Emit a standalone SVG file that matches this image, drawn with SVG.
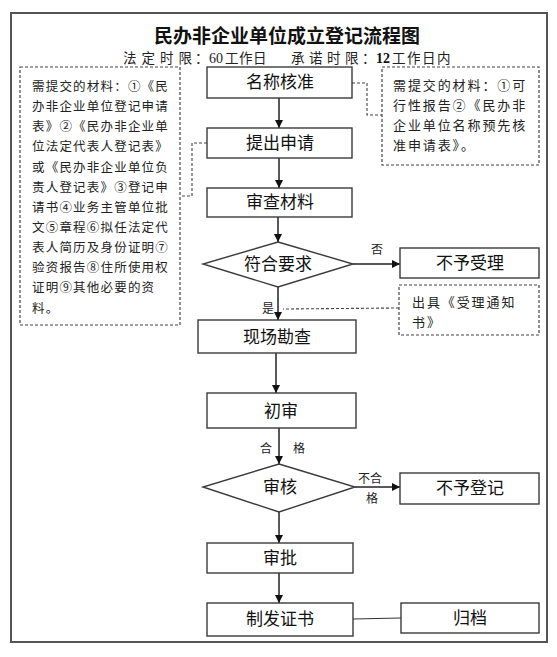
<svg xmlns="http://www.w3.org/2000/svg" width="557" height="657" viewBox="0 0 557 657">
<style>
.box{fill:#fff;stroke:#3a3a3a;stroke-width:1.4}
.dbox{fill:none;stroke:#444;stroke-width:1.2;stroke-dasharray:3 2}
.dl{fill:none;stroke:#444;stroke-width:1.1;stroke-dasharray:3 2}
.ln{fill:none;stroke:#222;stroke-width:1.5}
.nt{font-family:"Noto Sans CJK SC","Liberation Sans",sans-serif;font-size:17px;fill:#111;text-anchor:middle}
.note{font-family:"Noto Sans CJK SC",sans-serif;font-size:12.5px;fill:#222;letter-spacing:1.2px}
.note2{font-family:"Noto Sans CJK SC",sans-serif;font-size:13px;fill:#222;letter-spacing:1.9px}
.lab{font-family:"Noto Sans CJK SC",sans-serif;font-size:12px;fill:#222;text-anchor:middle}
.sub{font-family:"Noto Sans CJK SC",sans-serif;font-size:13.5px;fill:#222}
.num{font-family:"Liberation Serif",serif;font-size:14px}
</style>
<defs>
<marker id="ah" viewBox="0 0 10 10" refX="10" refY="5" markerWidth="8" markerHeight="8" markerUnits="userSpaceOnUse" orient="auto">
<path d="M0,0 L10,5 L0,10 z" fill="#111"/>
</marker>
</defs>
<rect x="0" y="0" width="557" height="657" fill="#fff"/>
<rect x="11" y="13" width="536" height="629" fill="none" stroke="#555" stroke-width="2"/>
<g id="title">
<text x="287" y="43" font-family="'Noto Sans CJK SC',sans-serif" font-size="19" font-weight="bold" fill="#111" text-anchor="middle">民办非企业单位成立登记流程图</text>
<text class="sub" y="63"><tspan x="123">法</tspan><tspan x="141.5">定</tspan><tspan x="160">时</tspan><tspan x="178.5">限</tspan><tspan x="195">：</tspan><tspan class="num" x="209">60</tspan><tspan x="225">工</tspan><tspan x="239">作</tspan><tspan x="253">日</tspan></text>
<text class="sub" y="63"><tspan x="291">承</tspan><tspan x="309">诺</tspan><tspan x="327">时</tspan><tspan x="345">限</tspan><tspan x="362">：</tspan><tspan class="num" x="376" font-weight="bold" fill="#111">12</tspan><tspan x="392">工</tspan><tspan x="407">作</tspan><tspan x="422">日</tspan><tspan x="437">内</tspan></text>
</g>
<g id="connectors">
<line class="ln" x1="279" y1="98" x2="279" y2="128" marker-end="url(#ah)"/>
<line class="ln" x1="279" y1="158" x2="279" y2="188" marker-end="url(#ah)"/>
<line class="ln" x1="278" y1="217" x2="278" y2="242" marker-end="url(#ah)"/>
<line class="ln" x1="353" y1="264" x2="400" y2="264" marker-end="url(#ah)"/>
<line class="ln" x1="278" y1="287" x2="278" y2="320" marker-end="url(#ah)"/>
<line class="ln" x1="276" y1="353" x2="276" y2="393" marker-end="url(#ah)"/>
<line class="ln" x1="279" y1="428" x2="279" y2="464" marker-end="url(#ah)"/>
<line class="ln" x1="355" y1="487" x2="400" y2="487" marker-end="url(#ah)"/>
<line class="ln" x1="279" y1="512" x2="279" y2="543" marker-end="url(#ah)"/>
<line class="ln" x1="279" y1="573" x2="279" y2="603" marker-end="url(#ah)"/>
<line x1="353" y1="619" x2="401" y2="618" stroke="#333" stroke-width="1.2"/>
<polyline class="dl" points="352,83 367,83 367,115 382,115"/>
<polyline class="dl" points="207,143 192,143 192,196 180,196"/>
<line class="dl" x1="399" y1="308" x2="283" y2="309"/>
<text class="lab" x="377" y="254">否</text>
<text class="lab" x="268" y="313">是</text>
<text class="lab" x="266" y="453">合</text>
<text class="lab" x="299" y="453">格</text>
<text class="lab" x="370" y="483">不合</text>
<text class="lab" x="372" y="503">格</text>
</g>
<g id="note-left">
<rect class="dbox" x="20" y="67" width="160" height="258"/>
<text class="note" x="32" y="91">需提交的材料：①《民</text>
<text class="note" x="32" y="111">办非企业单位登记申请</text>
<text class="note" x="32" y="131">表》②《民办非企业单</text>
<text class="note" x="32" y="151">位法定代表人登记表》</text>
<text class="note" x="32" y="172">或《民办非企业单位负</text>
<text class="note" x="32" y="192">责人登记表》③登记申</text>
<text class="note" x="32" y="212">请书④业务主管单位批</text>
<text class="note" x="32" y="232">文⑤章程⑥拟任法定代</text>
<text class="note" x="32" y="252">表人简历及身份证明⑦</text>
<text class="note" x="32" y="272">验资报告⑧住所使用权</text>
<text class="note" x="32" y="292">证明⑨其他必要的资</text>
<text class="note" x="32" y="313">料。</text>
</g>
<g id="note-right">
<rect class="dbox" x="382" y="67" width="157" height="98"/>
<text class="note2" x="393" y="90">需提交的材料：①可</text>
<text class="note2" x="393" y="110">行性报告②《民办非</text>
<text class="note2" x="393" y="130">企业单位名称预先核</text>
<text class="note2" x="393" y="150">准申请表》。</text>
</g>
<g id="n1"><rect class="box" x="207" y="67" width="145" height="31"/><text class="nt" x="280" y="88">名称核准</text></g>
<g id="n2"><rect class="box" x="207" y="128" width="145" height="30"/><text class="nt" x="280" y="149">提出申请</text></g>
<g id="n3"><rect class="box" x="207" y="188" width="145" height="29"/><text class="nt" x="280" y="208">审查材料</text></g>
<g id="d1"><polygon class="box" points="278,242 353,264 278,287 203,264"/><text class="nt" x="278" y="270">符合要求</text></g>
<g id="n4"><rect class="box" x="400" y="248" width="139" height="30"/><text class="nt" x="470" y="269">不予受理</text></g>
<g id="note-accept">
<rect class="dbox" x="399" y="285" width="140" height="50"/>
<text class="note2" x="412" y="307">出具《受理通知</text>
<text class="note2" x="412" y="327">书》</text>
</g>
<g id="n5"><rect class="box" x="198" y="320" width="158" height="33"/><text class="nt" x="277" y="343">现场勘查</text></g>
<g id="n6"><rect class="box" x="207" y="393" width="149" height="35"/><text class="nt" x="281" y="417">初审</text></g>
<g id="d2"><polygon class="box" points="279,464 355,487 279,512 203,487"/><text class="nt" x="280" y="493">审核</text></g>
<g id="n7"><rect class="box" x="400" y="473" width="139" height="31"/><text class="nt" x="470" y="494">不予登记</text></g>
<g id="n8"><rect class="box" x="207" y="543" width="146" height="30"/><text class="nt" x="280" y="564">审批</text></g>
<g id="n9"><rect class="box" x="207" y="603" width="146" height="33"/><text class="nt" x="280" y="625">制发证书</text></g>
<g id="n10"><rect class="box" x="401" y="603" width="138" height="30"/><text class="nt" x="470" y="624">归档</text></g>
</svg>
